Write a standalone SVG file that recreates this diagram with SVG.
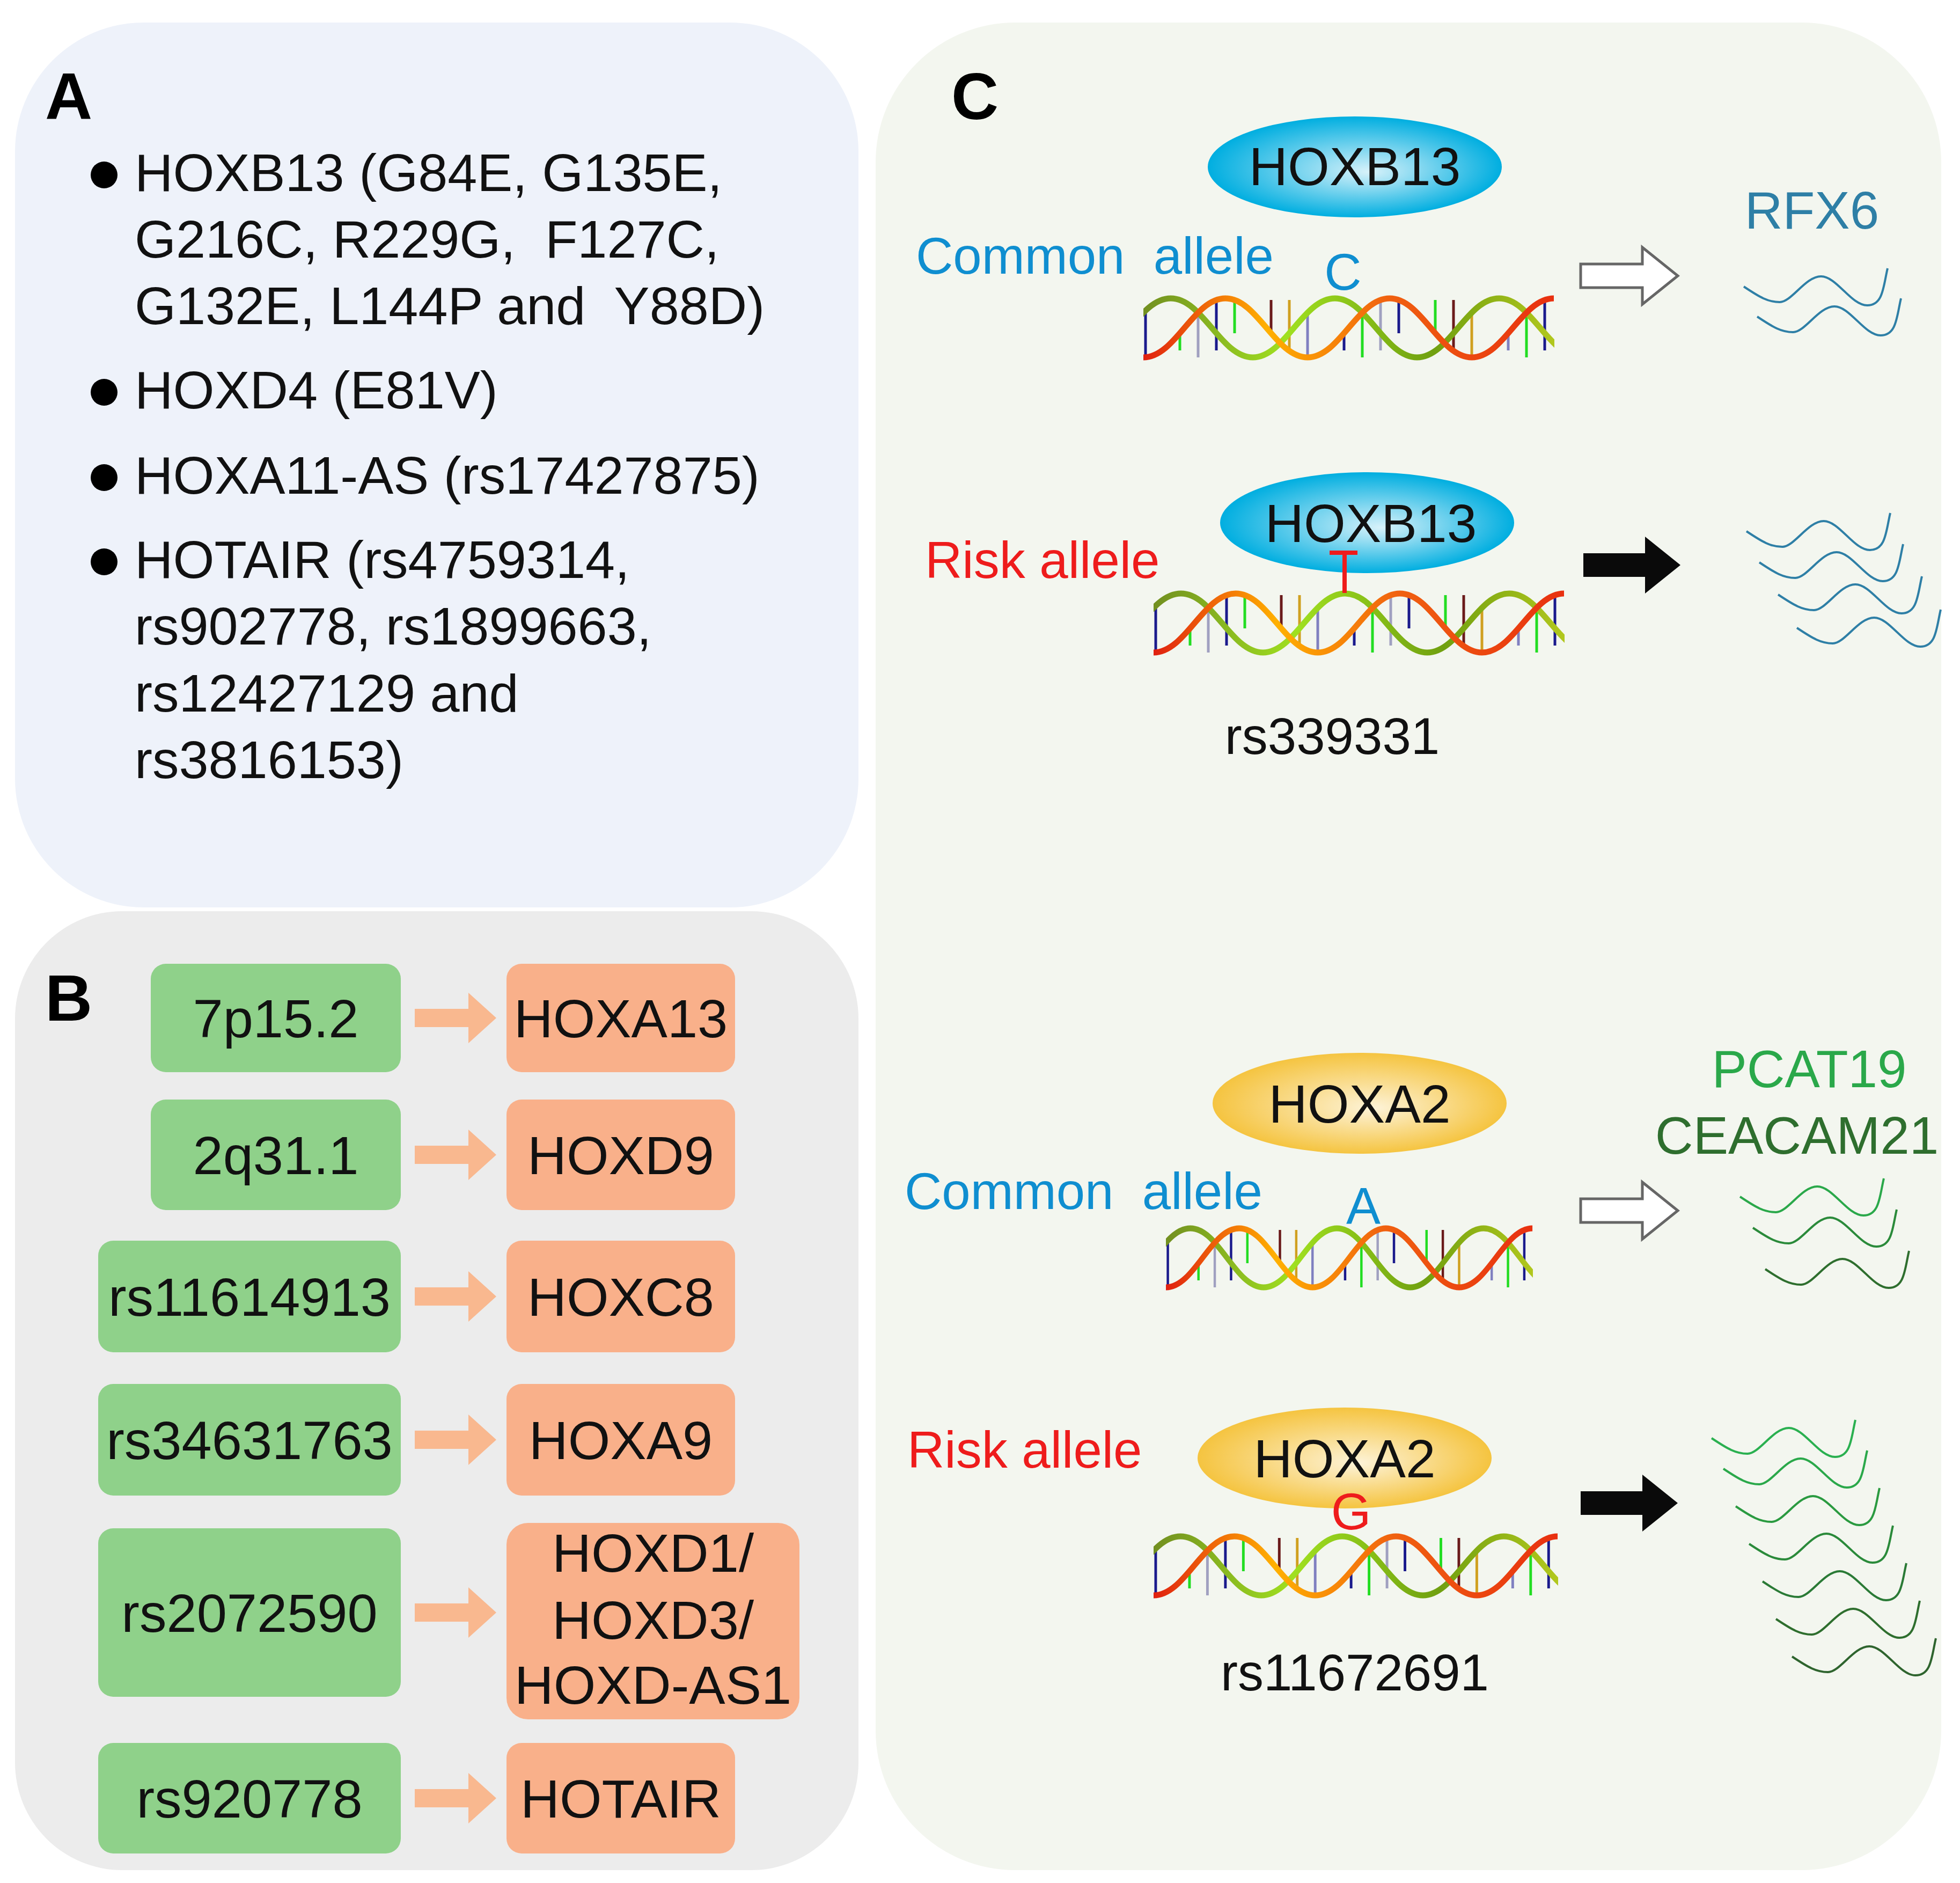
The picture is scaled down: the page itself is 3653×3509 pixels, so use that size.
<svg xmlns="http://www.w3.org/2000/svg" xmlns:xlink="http://www.w3.org/1999/xlink" width="3653" height="3509" viewBox="0 0 3653 3509">
<style>
text{font-family:"Liberation Sans",Arial,sans-serif;white-space:pre}
.t{font-size:99px;fill:#111}
.lbl{font-size:122px;font-weight:bold;fill:#000}
.bx{font-size:101px;fill:#111;text-anchor:middle}
.g{fill:#8fd18a}
.o{fill:#f9b08a}
.blue{fill:#0f8ed0;font-size:96px}
.red{fill:#ee1c1c;font-size:96px}
.wb{fill:none;stroke:#2e7fa6;stroke-width:4}
.wa{fill:#fff;stroke:#666;stroke-width:5}
.wk{fill:#0a0a0a}
.oa{fill:#f9b88f}
</style>
<defs>
<radialGradient id="cy" cx="0.5" cy="0.5" r="0.5" fx="0.55" fy="0.55"><stop offset="0" stop-color="#d8f2fa"/><stop offset="1" stop-color="#00aee0"/></radialGradient>
<radialGradient id="ye" cx="0.5" cy="0.5" r="0.5" fx="0.55" fy="0.55"><stop offset="0" stop-color="#fdf3d8"/><stop offset="1" stop-color="#f5c440"/></radialGradient>
<linearGradient id="s1" x1="0" y1="0" x2="1" y2="0"><stop offset="0" stop-color="#e02010"/><stop offset="0.3" stop-color="#ffb000"/><stop offset="0.6" stop-color="#f06010"/><stop offset="1" stop-color="#e83010"/></linearGradient>
<linearGradient id="s2" x1="0" y1="0" x2="1" y2="0"><stop offset="0" stop-color="#607020"/><stop offset="0.4" stop-color="#a0e020"/><stop offset="0.7" stop-color="#70a010"/><stop offset="1" stop-color="#c0d020"/></linearGradient>
<symbol id="dna" viewBox="0 0 766 122" preserveAspectRatio="none">
<g stroke-width="5">
<line x1="4" y1="116" x2="4" y2="34" stroke="#1a1a8c"/>
<line x1="68" y1="71" x2="68" y2="103" stroke="#22dd22"/>
<line x1="102" y1="34" x2="102" y2="116" stroke="#a0a0c0"/>
<line x1="136" y1="9" x2="136" y2="103" stroke="#1a1a8c"/>
<line x1="170" y1="9" x2="170" y2="71" stroke="#22dd22"/>
<line x1="238" y1="71" x2="238" y2="9" stroke="#6a1a1a"/>
<line x1="272" y1="103" x2="272" y2="9" stroke="#d0a020"/>
<line x1="306" y1="116" x2="306" y2="34" stroke="#8080c0"/>
<line x1="374" y1="71" x2="374" y2="103" stroke="#1a1a8c"/>
<line x1="408" y1="34" x2="408" y2="116" stroke="#22dd22"/>
<line x1="442" y1="9" x2="442" y2="103" stroke="#a0a0c0"/>
<line x1="476" y1="9" x2="476" y2="71" stroke="#1a1a8c"/>
<line x1="544" y1="71" x2="544" y2="9" stroke="#22dd22"/>
<line x1="578" y1="103" x2="578" y2="9" stroke="#6a1a1a"/>
<line x1="612" y1="116" x2="612" y2="34" stroke="#d0a020"/>
<line x1="680" y1="71" x2="680" y2="103" stroke="#8080c0"/>
<line x1="714" y1="34" x2="714" y2="116" stroke="#22dd22"/>
<line x1="748" y1="9" x2="748" y2="103" stroke="#1a1a8c"/>
</g>
<path d="M-102,116 C-42,116 -9,6 51,6 S144,116 204,116 S297,6 357,6 S450,116 510,116 S603,6 663,6 S756,116 816,116" fill="none" stroke="url(#s2)" stroke-width="11"/>
<path d="M0,116 C60,116 93,6 153,6 S246,116 306,116 S399,6 459,6 S552,116 612,116 S705,6 765,6" fill="none" stroke="url(#s1)" stroke-width="11"/>
</symbol>
<path id="wave" d="M0,0 C30,20 45,29 67,29 S115,-19 144,-19 S200,35 230,35 S260,0 268,-34"/>
<polygon id="barrow" points="0,31 115,31 115,0 181,53 115,106 115,75 0,75"/>
<polygon id="oarrow" points="0,-17 100,-17 100,-47 152,0 100,47 100,17 0,17"/>
</defs>

<g id="panelA">
<rect x="28" y="42" width="1572" height="1649" rx="240" fill="#eef2fa"/>
<text x="84" y="222" class="lbl">A</text>
<g fill="#000"><circle cx="194" cy="326" r="25"/><circle cx="194" cy="731" r="25"/><circle cx="194" cy="890" r="25"/><circle cx="194" cy="1047" r="25"/></g>
<text class="t" x="251" y="356">HOXB13 (G84E, G135E,</text>
<text class="t" x="251" y="480">G216C, R229G,  F127C,</text>
<text class="t" x="251" y="604">G132E, L144P and  Y88D)</text>
<text class="t" x="251" y="761">HOXD4 (E81V)</text>
<text class="t" x="251" y="920">HOXA11-AS (rs17427875)</text>
<text class="t" x="251" y="1077">HOTAIR (rs4759314,</text>
<text class="t" x="251" y="1201">rs902778, rs1899663,</text>
<text class="t" x="251" y="1326">rs12427129 and</text>
<text class="t" x="251" y="1450">rs3816153)</text>
</g>

<g id="panelB">
<rect x="28" y="1698" width="1572" height="1787" rx="200" fill="#ececec"/>
<text x="84" y="1902" class="lbl">B</text>
</g>
<g id="panelC">
<rect x="1632" y="42" width="1986" height="3443" rx="260" fill="#f3f6ef"/>
<text x="1773" y="222" class="lbl">C</text>
</g>

<g id="b1"><rect class="g" x="281" y="1796" width="466" height="202" rx="28"/><text class="bx" x="514" y="1933">7p15.2</text><rect class="o" x="944" y="1796" width="426" height="202" rx="28"/><text class="bx" x="1157" y="1933">HOXA13</text></g>
<g id="b2"><rect class="g" x="281" y="2049" width="466" height="206" rx="28"/><text class="bx" x="514" y="2188">2q31.1</text><rect class="o" x="944" y="2049" width="426" height="206" rx="28"/><text class="bx" x="1157" y="2188">HOXD9</text></g>
<g id="b3"><rect class="g" x="183" y="2312" width="564" height="208" rx="28"/><text class="bx" x="465" y="2452">rs11614913</text><rect class="o" x="944" y="2312" width="426" height="208" rx="28"/><text class="bx" x="1157" y="2452">HOXC8</text></g>
<g id="b4"><rect class="g" x="183" y="2579" width="564" height="208" rx="28"/><text class="bx" x="465" y="2719">rs34631763</text><rect class="o" x="944" y="2579" width="426" height="208" rx="28"/><text class="bx" x="1157" y="2719">HOXA9</text></g>
<g id="b5"><rect class="g" x="183" y="2848" width="564" height="314" rx="28"/><text class="bx" x="465" y="3041">rs2072590</text><rect class="o" x="944" y="2838" width="546" height="366" rx="40"/><text class="bx" x="1217" y="2929">HOXD1/</text><text class="bx" x="1217" y="3054">HOXD3/</text><text class="bx" x="1217" y="3175">HOXD-AS1</text></g>
<g id="b6"><rect class="g" x="183" y="3248" width="564" height="206" rx="28"/><text class="bx" x="465" y="3387">rs920778</text><rect class="o" x="944" y="3248" width="426" height="206" rx="28"/><text class="bx" x="1157" y="3387">HOTAIR</text></g>

<g id="connectors">
<use href="#oarrow" class="oa" x="773" y="1897"/>
<use href="#oarrow" class="oa" x="773" y="2152"/>
<use href="#oarrow" class="oa" x="773" y="2416"/>
<use href="#oarrow" class="oa" x="773" y="2683"/>
<use href="#oarrow" class="oa" x="773" y="3005"/>
<use href="#oarrow" class="oa" x="773" y="3351"/>
<use href="#barrow" class="wa" x="2946" y="461"/>
<use href="#barrow" class="wk" x="2951" y="1000"/>
<use href="#barrow" class="wa" x="2946" y="2203"/>
<use href="#barrow" class="wk" x="2946" y="2748"/>
</g>

<g id="c1">
<ellipse cx="2525" cy="311" rx="274" ry="94" fill="url(#cy)"/>
<text x="2525" y="345" font-size="100" text-anchor="middle" fill="#111">HOXB13</text>
<text class="blue" x="1707" y="510">Common  allele</text>
<use href="#dna" x="2131" y="550" width="766" height="122"/>
<text class="blue" x="2503" y="540" text-anchor="middle">C</text>
<text x="3377" y="426" font-size="98" text-anchor="middle" fill="#2e7fa6">RFX6</text>
<use href="#wave" class="wb" x="3250" y="534"/>
<use href="#wave" class="wb" x="3275" y="590"/>
</g>

<g id="c2">
<ellipse cx="2548" cy="974" rx="274" ry="94" fill="url(#cy)"/>
<text x="2555" y="1010" font-size="100" text-anchor="middle" fill="#111">HOXB13</text>
<text class="red" x="1724" y="1077">Risk allele</text>
<use href="#dna" x="2150" y="1100" width="766" height="122"/>
<path d="M2478,1030 H2530 M2506,1030 V1105" stroke="#ee1c1c" stroke-width="8"/>
<text x="2483" y="1405" font-size="96" text-anchor="middle" fill="#111">rs339331</text>
<use href="#wave" class="wb" x="3255" y="990"/>
<use href="#wave" class="wb" x="3279" y="1048"/>
<use href="#wave" class="wb" x="3314" y="1108"/>
<use href="#wave" class="wb" x="3349" y="1170"/>
</g>

<g id="c3">
<ellipse cx="2534" cy="2056" rx="274" ry="94" fill="url(#ye)"/>
<text x="2534" y="2092" font-size="100" text-anchor="middle" fill="#111">HOXA2</text>
<text x="3372" y="2026" font-size="98" text-anchor="middle" fill="#2aa84a">PCAT19</text>
<text x="3349" y="2150" font-size="98" text-anchor="middle" fill="#2e6e2e">CEACAM21</text>
<text class="blue" x="1686" y="2253">Common  allele</text>
<use href="#dna" x="2173" y="2283" width="684" height="122"/>
<text class="blue" x="2541" y="2280" text-anchor="middle">A</text>
<use href="#wave" x="3243" y="2230" fill="none" stroke="#2aa84a" stroke-width="4"/>
<use href="#wave" x="3267" y="2288" fill="none" stroke="#2a8a3a" stroke-width="4"/>
<use href="#wave" x="3290" y="2365" fill="none" stroke="#2e6e2e" stroke-width="4"/>
</g>

<g id="c4">
<ellipse cx="2506" cy="2717" rx="274" ry="94" fill="url(#ye)"/>
<text x="2506" y="2753" font-size="100" text-anchor="middle" fill="#111">HOXA2</text>
<text class="red" x="1691" y="2735">Risk allele</text>
<use href="#dna" x="2150" y="2857" width="754" height="122"/>
<text class="red" x="2518" y="2850" text-anchor="middle">G</text>
<text x="2525" y="3150" font-size="96" text-anchor="middle" fill="#111">rs11672691</text>
<use href="#wave" x="3190" y="2680" fill="none" stroke="#2ab050" stroke-width="4"/>
<use href="#wave" x="3212" y="2737" fill="none" stroke="#2aa84a" stroke-width="4"/>
<use href="#wave" x="3235" y="2807" fill="none" stroke="#2a9a40" stroke-width="4"/>
<use href="#wave" x="3260" y="2877" fill="none" stroke="#2a8a3a" stroke-width="4"/>
<use href="#wave" x="3285" y="2947" fill="none" stroke="#2a7a36" stroke-width="4"/>
<use href="#wave" x="3310" y="3017" fill="none" stroke="#2e6e2e" stroke-width="4"/>
<use href="#wave" x="3340" y="3087" fill="none" stroke="#2e642e" stroke-width="4"/>
</g>
</svg>
